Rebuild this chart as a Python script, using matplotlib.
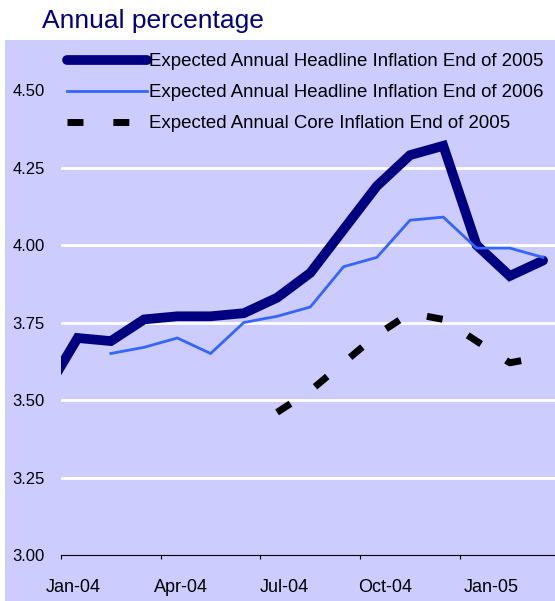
import numpy as np
import matplotlib
matplotlib.use("Agg")
import matplotlib.pyplot as plt
from matplotlib.patches import Rectangle

plt.rcParams['font.family'] = ['Liberation Sans', 'DejaVu Sans']

# Datos (mensuales, Dic-03 a Mar-05)
months = ['Dec-03', 'Jan-04', 'Feb-04', 'Mar-04', 'Apr-04', 'May-04', 'Jun-04',
          'Jul-04', 'Aug-04', 'Sep-04', 'Oct-04', 'Nov-04', 'Dec-04',
          'Jan-05', 'Feb-05', 'Mar-05']
headline_2005 = [3.52, 3.70, 3.69, 3.76, 3.77, 3.77, 3.78, 3.83, 3.91, 4.05,
                 4.19, 4.29, 4.32, 4.00, 3.90, 3.95]
headline_2006 = [np.nan, np.nan, 3.65, 3.67, 3.70, 3.65, 3.75, 3.77, 3.80, 3.93,
                 3.96, 4.08, 4.09, 3.99, 3.99, 3.96]
core_2005 = [np.nan] * 7 + [3.46, 3.53, 3.62, 3.71, 3.78, 3.76, 3.69, 3.62, 3.64]
tick_labels = ['Jan-04', 'Apr-04', 'Jul-04', 'Oct-04', 'Jan-05']
y_ticks = [3.00, 3.25, 3.50, 3.75, 4.00, 4.25, 4.50]

lavender = '#CCCCFF'
navy = '#000080'

W, H = 555, 601
fig = plt.figure(figsize=(W / 100, H / 100), dpi=100)
fig.patches.append(Rectangle((5 / W, 0), 1, (H - 40) / H, transform=fig.transFigure,
                             facecolor=lavender, edgecolor='none', zorder=-10))
fig.text(42 / W, 1 - 28 / H, 'Annual percentage', fontsize=19, color=navy,
         ha='left', va='baseline')

ax = fig.add_axes([61 / W, 46 / H, (W - 61) / W, 511.5 / H])
ax.set_facecolor(lavender)
ax.set_zorder(1)

x = np.arange(len(months)) - 1  # Jan-04 = 0
ax.plot(x, headline_2005, color=navy, lw=7, solid_capstyle='round',
        solid_joinstyle='miter', label='Expected Annual Headline Inflation End of 2005', zorder=3)
ax.plot(x, headline_2006, color='#3366FF', lw=2, solid_joinstyle='miter',
        label='Expected Annual Headline Inflation End of 2006', zorder=4)
ax.plot(x, core_2005, color='black', lw=5, linestyle=(0, (2.3, 4.3)),
        dash_capstyle='butt', label='Expected Annual Core Inflation End of 2005', zorder=2)

ax.set_xlim(-0.5, 14.36)
ax.set_ylim(3.0, 4.65)

# Eje Y
ax.set_yticks(y_ticks)
ax.set_yticklabels([f'{v:.2f}' for v in y_ticks], fontsize=12)
ax.tick_params(axis='y', length=0, pad=11.5)
ax.yaxis.grid(True, color='white', lw=2)
gl = ax.get_ygridlines()
gl[0].set_visible(False)
gl[-1].set_visible(False)
ax.set_axisbelow(True)

# Eje X: marcas entre categorías, etiquetas aparte
ax.set_xticks(np.arange(-0.5, 14, 3))
ax.set_xticklabels([])
ax.tick_params(axis='x', which='major', length=3, width=0.8, direction='out', color='black')
label_pos = [-0.12, 3.10, 6.23, 9.24, 12.44]
ax.set_xticks(label_pos, minor=True)
ax.set_xticklabels(tick_labels, minor=True, fontsize=13)
ax.tick_params(axis='x', which='minor', length=0, pad=17)

for s in ['top', 'right', 'left']:
    ax.spines[s].set_visible(False)
ax.spines['bottom'].set_color('black')
ax.spines['bottom'].set_linewidth(0.8)

leg = ax.legend(loc='upper left', bbox_to_anchor=(67 / W, 1 - 53 / H),
                bbox_transform=fig.transFigure, fontsize=13.4, frameon=False,
                borderpad=0, borderaxespad=0, handlelength=4.3, handletextpad=0.1,
                labelspacing=0.76)

fig.savefig('out.png', dpi=100)
